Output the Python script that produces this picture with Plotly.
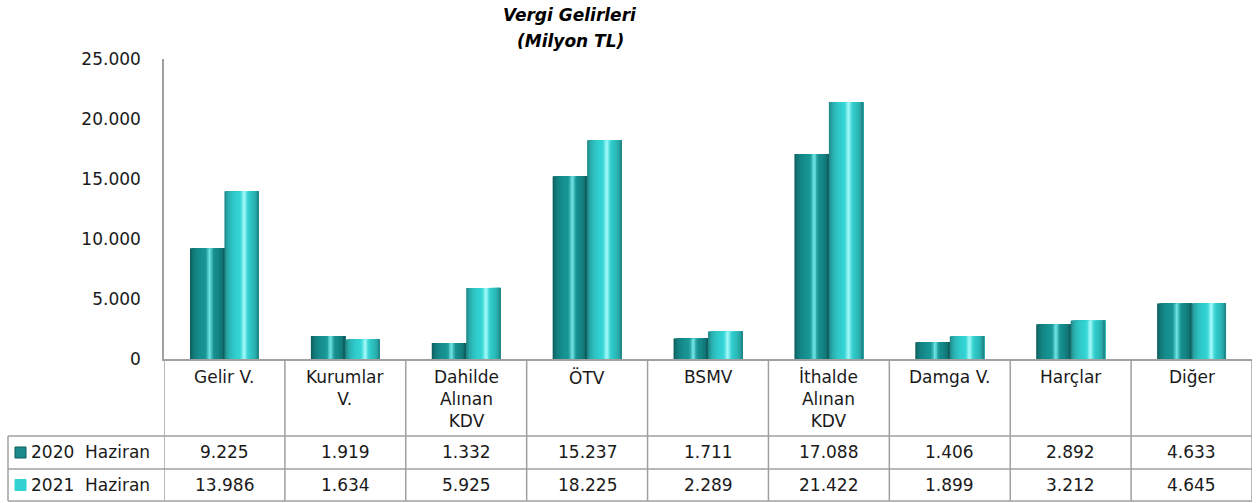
import math
import plotly.graph_objects as go

# ---------------- data ----------------
categories = ["Gelir V.", "Kurumlar<br>V.", "Dahilde<br>Alınan<br>KDV", "ÖTV", "BSMV",
              "İthalde<br>Alınan<br>KDV", "Damga V.", "Harçlar", "Diğer"]
series_names = ["2020  Haziran", "2021  Haziran"]
values_2020 = [9225, 1919, 1332, 15237, 1711, 17088, 1406, 2892, 4633]
values_2021 = [13986, 1634, 5925, 18225, 2289, 21422, 1899, 3212, 4645]
y_ticks = [0, 5000, 10000, 15000, 20000, 25000]
title_lines = ["Vergi Gelirleri", "(Milyon TL)"]

# ---------------- style ----------------
W_FIG, H_FIG = 1256, 503
ML, MR, MT, MB = 164, 4, 59, 144
PW, PH = W_FIG - ML - MR, H_FIG - MT - MB
FONT = "DejaVu Sans"
GRID = "#a0a0a0"
base_cols = [(22, 142, 142), (48, 202, 202)]
spec_cols = [(125, 240, 240), (180, 255, 255)]
key_cols = ["#1a8a8a", "#33d3d3"]
BAR_W = 0.285
N_STRIPES = 24
FS = 17


def px_x(p):
    return (p - ML) / PW


def px_y(p):
    return (MT + PH - p) / PH


def shade(si, t):
    base = base_cols[si]
    d = math.sin(math.pi * t)
    k = 0.5 + 0.55 * d ** 0.4
    c = [min(255.0, b * k) for b in base]
    spec = 0.85 * math.exp(-((t - 0.57) / 0.07) ** 2)
    c = [ci + (sc - ci) * spec for ci, sc in zip(c, spec_cols[si])]
    return "rgb(%d,%d,%d)" % tuple(int(round(v)) for v in c)


def fmt(v):
    return f"{v:,}".replace(",", ".")


xs = list(range(len(categories)))
fig = go.Figure()

for si, vals in enumerate([values_2020, values_2021]):
    left = -BAR_W if si == 0 else 0.0
    step = BAR_W / N_STRIPES
    for i in range(N_STRIPES):
        t = (i + 0.5) / N_STRIPES
        fig.add_trace(go.Bar(
            x=xs, y=vals,
            offset=left + i * step,
            width=BAR_W - i * step,
            marker=dict(color=shade(si, t), line=dict(width=0)),
            showlegend=False, hoverinfo="skip",
        ))

shapes = []
annotations = []

# table lines
y_axis = MT + PH
y_head = 436
y_r1 = 469
y_r2 = 501
left_px = 8
line = dict(color=GRID, width=1.5)
for i in range(len(categories) + 1):
    shapes.append(dict(type="line", xref="x", yref="paper", x0=i - 0.5, x1=i - 0.5,
                       y0=px_y(y_axis), y1=px_y(y_r2), line=line))
for yy in [y_head, y_r1, y_r2]:
    shapes.append(dict(type="line", xref="paper", yref="paper", x0=px_x(left_px), x1=1,
                       y0=px_y(yy), y1=px_y(yy), line=line))
shapes.append(dict(type="line", xref="paper", yref="paper", x0=px_x(left_px), x1=px_x(left_px),
                   y0=px_y(y_head), y1=px_y(y_r2), line=line))

# category headers
for i, c in enumerate(categories):
    annotations.append(dict(x=i, y=px_y(365), xref="x", yref="paper", text=c, showarrow=False,
                            xanchor="center", yanchor="top", align="center",
                            font=dict(family=FONT, size=FS, color="#1a1a1a")))

# rows
for si, vals in enumerate([values_2020, values_2021]):
    yc = (y_head + y_r1) / 2 if si == 0 else (y_r1 + y_r2) / 2
    shapes.append(dict(type="rect", xref="paper", yref="paper",
                       x0=px_x(15), x1=px_x(26), y0=px_y(yc - 5.5), y1=px_y(yc + 5.5),
                       fillcolor=key_cols[si], line=dict(color="#0d5c5c" if si == 0 else key_cols[si], width=1)))
    annotations.append(dict(x=px_x(29), y=px_y(yc), xref="paper", yref="paper", text=series_names[si],
                            showarrow=False, xanchor="left", yanchor="middle",
                            font=dict(family=FONT, size=FS, color="#1a1a1a")))
    for i, v in enumerate(vals):
        annotations.append(dict(x=i, y=px_y(yc), xref="x", yref="paper", text=fmt(v), showarrow=False,
                                xanchor="center", yanchor="middle",
                                font=dict(family=FONT, size=FS, color="#1a1a1a")))

# title
for k, tl in enumerate(title_lines):
    annotations.append(dict(x=px_x(570), y=px_y(15 + 26 * k), xref="paper", yref="paper",
                            text="<b><i>" + tl + "</i></b>", showarrow=False,
                            xanchor="center", yanchor="middle",
                            font=dict(family=FONT, size=17, color="#000000")))

fig.update_layout(
    width=W_FIG, height=H_FIG,
    margin=dict(l=ML, r=MR, t=MT, b=MB, pad=0),
    paper_bgcolor="white", plot_bgcolor="white",
    barmode="overlay", separators=",.",
    shapes=shapes, annotations=annotations,
    xaxis=dict(range=[-0.5, len(categories) - 0.5], showticklabels=False, ticks="",
               showgrid=False, zeroline=False, showline=True, linecolor=GRID, linewidth=1.5,
               fixedrange=True),
    yaxis=dict(range=[0, 25000], tickvals=y_ticks, tickformat=",d", ticks="",
               showgrid=False, zeroline=False, showline=True, linecolor=GRID, linewidth=1.5,
               ticklabelstandoff=18, tickfont=dict(family=FONT, size=17, color="#1a1a1a"),
               fixedrange=True),
    showlegend=False,
)

fig.write_html("out.html", config={"displayModeBar": False},
               post_script="document.body.style.margin='0px';document.body.style.overflow='hidden';")
